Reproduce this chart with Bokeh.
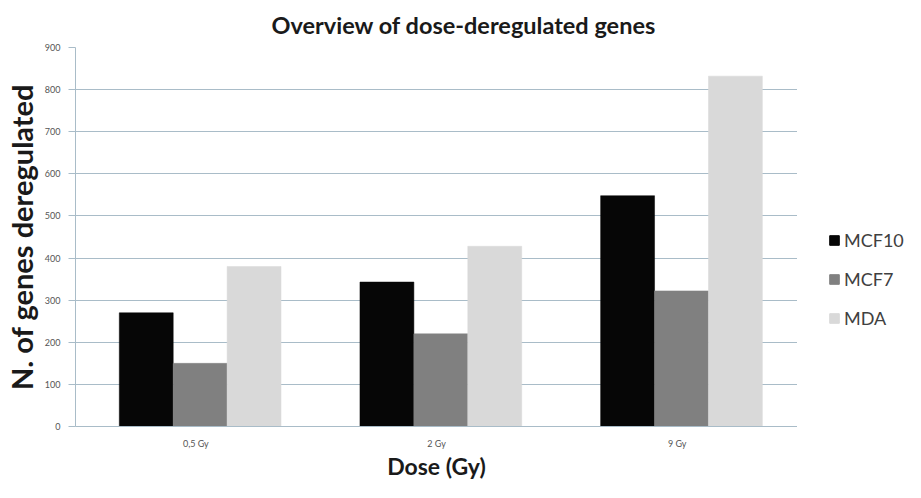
from bokeh.plotting import figure
from bokeh.models import FactorRange, Range1d, Legend, LegendItem, ColumnDataSource
from bokeh.layouts import row
from bokeh.transform import dodge
from bokeh.embed import file_html
from bokeh.resources import INLINE

doses = ["0,5 Gy", "2 Gy", "9 Gy"]
series = ["MCF10", "MCF7", "MDA"]
mcf10 = [270, 343, 548]
mcf7 = [150, 220, 322]
mda = [380, 428, 832]
colors = ["#060606", "#808080", "#d9d9d9"]
y_ticks = [0, 100, 200, 300, 400, 500, 600, 700, 800, 900]

src = ColumnDataSource(dict(dose=doses, MCF10=mcf10, MCF7=mcf7, MDA=mda))

p = figure(x_range=FactorRange(*doses), y_range=Range1d(0, 900),
           width=797, height=482, output_backend="svg", toolbar_location=None,
           min_border_left=59, min_border_right=0, min_border_top=47, min_border_bottom=55)

bw = 0.224
offsets = [-bw, 0, bw]
for s, c, o in zip(series, colors, offsets):
    p.vbar(x=dodge("dose", o + 0.018, range=p.x_range), top=s, width=bw, source=src,
           fill_color=c, line_color=c, line_width=0.5)

p.title.text = "Overview of dose-deregulated genes"
p.title.align = "left"
p.title.offset = 196
p.title.standoff = 17
p.title.text_font = "Lato"
p.title.text_font_style = "bold"
p.title.text_font_size = "23.5px"
p.title.text_color = "#1a1a1a"

grid_col = "#a9bcc8"
p.xgrid.grid_line_color = None
p.ygrid.grid_line_color = grid_col
p.ygrid.grid_line_width = 1.2
p.yaxis.ticker = y_ticks
p.outline_line_color = None

p.yaxis.axis_line_color = grid_col
p.yaxis.major_tick_line_color = grid_col
p.yaxis.major_tick_out = 7
p.yaxis.major_tick_in = 0
p.yaxis.minor_tick_line_color = None
p.yaxis.major_label_text_font = "Lato"
p.yaxis.major_label_text_font_size = "9px"
p.yaxis.major_label_text_color = "#555555"
p.yaxis.major_label_standoff = 8
p.yaxis.axis_label = "N. of genes deregulated"
p.yaxis.axis_label_text_font = "Lato"
p.yaxis.axis_label_text_font_style = "bold"
p.yaxis.axis_label_text_font_size = "29px"
p.yaxis.axis_label_text_color = "#1a1a1a"
p.yaxis.axis_label_standoff = 3

p.xaxis.axis_line_color = grid_col
p.xaxis.axis_line_width = 1.2
p.xaxis.major_tick_line_color = None
p.xaxis.major_tick_out = 0
p.xaxis.major_tick_in = 0
p.xaxis.minor_tick_line_color = None
p.xaxis.major_label_text_font = "Lato"
p.xaxis.major_label_text_font_size = "9px"
p.xaxis.major_label_text_color = "#555555"
p.xaxis.major_label_standoff = 11
p.xaxis.axis_label = "Dose (Gy)"
p.xaxis.axis_label_text_font = "Lato"
p.xaxis.axis_label_text_font_style = "bold"
p.xaxis.axis_label_text_font_size = "23px"
p.xaxis.axis_label_text_color = "#1a1a1a"
p.xaxis.axis_label_standoff = 0

# legend panel to the right of the plot (frame aligned with the main plot)
lg = figure(width=108, height=482, x_range=Range1d(0, 1), y_range=Range1d(0, 1),
            output_backend="svg", toolbar_location=None,
            min_border_left=31, min_border_right=0, min_border_top=47, min_border_bottom=55)
lg.axis.visible = False
lg.grid.visible = False
lg.outline_line_color = None
dummies = []
for c in colors:
    dummies.append(lg.vbar(x=[5], top=[5], width=0.1, fill_color=c, line_color=c))

legend = Legend(items=[LegendItem(label=s, renderers=[r]) for s, r in zip(series, dummies)],
                location=(0, 97), border_line_color=None, background_fill_alpha=0,
                label_text_font="Lato", label_text_font_size="18px", label_text_color="#404040",
                glyph_width=12, glyph_height=12, spacing=17, padding=0, margin=0,
                label_standoff=4)
lg.add_layout(legend)

layout = row(p, lg, spacing=0)
open("out.html", "w").write(file_html(layout, INLINE))
